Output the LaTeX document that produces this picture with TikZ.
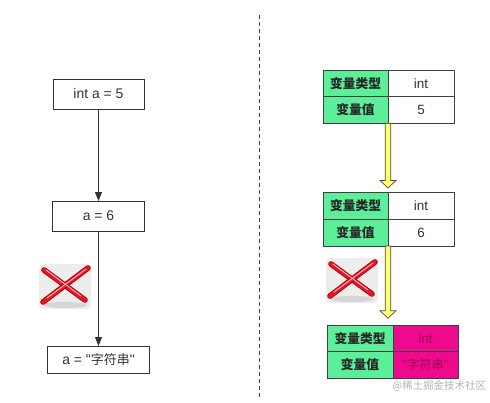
\documentclass[tikz,border=0pt]{standalone}
\usepackage{fontspec}
\setmainfont{Liberation Sans}[Ligatures=TeXOff]
\newfontfamily\cjk{Noto Sans CJK SC}[Ligatures=TeXOff]
\usetikzlibrary{calc,arrows.meta}
\definecolor{keygreen}{RGB}{92,238,152}
\definecolor{hotpink}{RGB}{238,10,140}
\definecolor{hottext}{RGB}{160,0,85}
\definecolor{arrowyellow}{RGB}{255,255,110}
\definecolor{xred}{RGB}{232,20,40}
\tikzset{
  pics/redx/.style={code={
    \fill[black!7, rounded corners=4bp] (-26,-22) rectangle (26,23);
    \fill[black!16] (0,19) ellipse (22bp and 3bp);
    \foreach \a/\b in {{(-21,-16)}/{(20,14)},{(23,-18)}/{(-22,16)}}{
      \draw[line width=5.6bp, red!65!black, line cap=round] \a -- \b;
      \draw[line width=4bp, xred, line cap=round] \a -- \b;
    }
    \draw[line width=0.9bp, red!25, line cap=round] (-19,-16) -- (16,10);
    \draw[line width=0.9bp, red!25, line cap=round] (21,-17) -- (-18,12);
  }}
}
\begin{document}
\begin{tikzpicture}[x=1bp,y=-1bp,
  every node/.style={inner sep=0pt,outer sep=0pt},
  vbox/.style={draw=black!80,line width=0.8bp,fill=white,font=\fontsize{14}{16}\selectfont,text=black!80},
  cell/.style={draw=black!75,line width=0.8bp,font=\fontsize{13.5}{15}\selectfont},
  key/.style={cell,fill=keygreen,font=\fontsize{12.8}{14}\selectfont\cjk\bfseries,text=black!85},
  val/.style={cell,fill=white,text=black!80},
  hot/.style={cell,fill=hotpink,text=hottext},
  flow/.style={draw=black!80,line width=0.9bp,-{Triangle[length=9bp,width=7bp]}},
  yarrow/.style={draw=black!70,line width=0.7bp,fill=arrowyellow},
  divider/.style={draw=black!75,line width=0.8bp,dash pattern=on 4bp off 3bp},
  wmark/.style={text=black!30,font=\fontsize{10.5}{12}\selectfont\cjk},
]
\useasboundingbox (0,0) rectangle (490,402);

% divider
\coordinate (dtop) at (259,15);
\coordinate (dbot) at (259,398);
\draw[divider] (dtop) -- (dbot);

% left flow
\node[vbox,minimum width=91bp,minimum height=30bp] (b1) at (98.5,94) {int a = 5};
\node[vbox,minimum width=92bp,minimum height=30bp] (b2) at (98.5,216) {a = 6};
\node[vbox,minimum width=102bp,minimum height=27bp] (b3) at (98.5,359.5) {a = "{\cjk\fontsize{13}{15}\selectfont 字符串}"};
\draw[flow] (b1) -- (b2);
\draw[flow] (b2) -- (b3);
\pic at (65,286) {redx};

% right tables
\node[key,minimum width=65bp,minimum height=26.5bp] (t1k1) at (355.5,83.5) {变量类型};
\node[key,minimum width=65bp,minimum height=26.5bp] (t1k2) at (355.5,110) {变量值};
\node[val,minimum width=66bp,minimum height=26.5bp] (t1v1) at (421,83.5) {int};
\node[val,minimum width=66bp,minimum height=26.5bp] (t1v2) at (421,110) {5};

\node[key,minimum width=65bp,minimum height=27bp] (t2k1) at (355.5,205.5) {变量类型};
\node[key,minimum width=65bp,minimum height=27bp] (t2k2) at (355.5,232.5) {变量值};
\node[val,minimum width=66bp,minimum height=27bp] (t2v1) at (421,205.5) {int};
\node[val,minimum width=66bp,minimum height=27bp] (t2v2) at (421,232.5) {6};

\node[key,minimum width=66bp,minimum height=26.5bp] (t3k1) at (360,338.5) {变量类型};
\node[key,minimum width=66bp,minimum height=26.5bp] (t3k2) at (360,365) {变量值};
\node[hot,minimum width=65bp,minimum height=26.5bp] (t3v1) at (425.5,338.5) {int};
\node[hot,minimum width=65bp,minimum height=26.5bp] (t3v2) at (425.5,365) {"{\cjk\fontsize{12.5}{14}\selectfont 字符串}"};

% yellow arrows
\coordinate (s1) at (t1k2.south east);
\coordinate (e1) at ($(t2k1.north east)+(0,-4)$);
\coordinate (s2) at (t2k2.south east);
\coordinate (e2) at ($(s2 |- t3k1.north)+(0,-7)$);
\foreach \s/\e in {s1/e1,s2/e2}{
  \draw[yarrow] let \p1=(\s), \p2=(\e) in
    (\x1-2.8bp,\y1) -- (\x1-2.8bp,\y2+7.5bp) -- (\x1-8bp,\y2+7.5bp) -- (\x1,\y2)
    -- (\x1+8bp,\y2+7.5bp) -- (\x1+2.8bp,\y2+7.5bp) -- (\x1+2.8bp,\y1) -- cycle;
}
\pic at (352,280) {redx};

% watermark
\node[wmark,anchor=east] (wm) at (486,386) {@稀土掘金技术社区};
\end{tikzpicture}
\end{document}
